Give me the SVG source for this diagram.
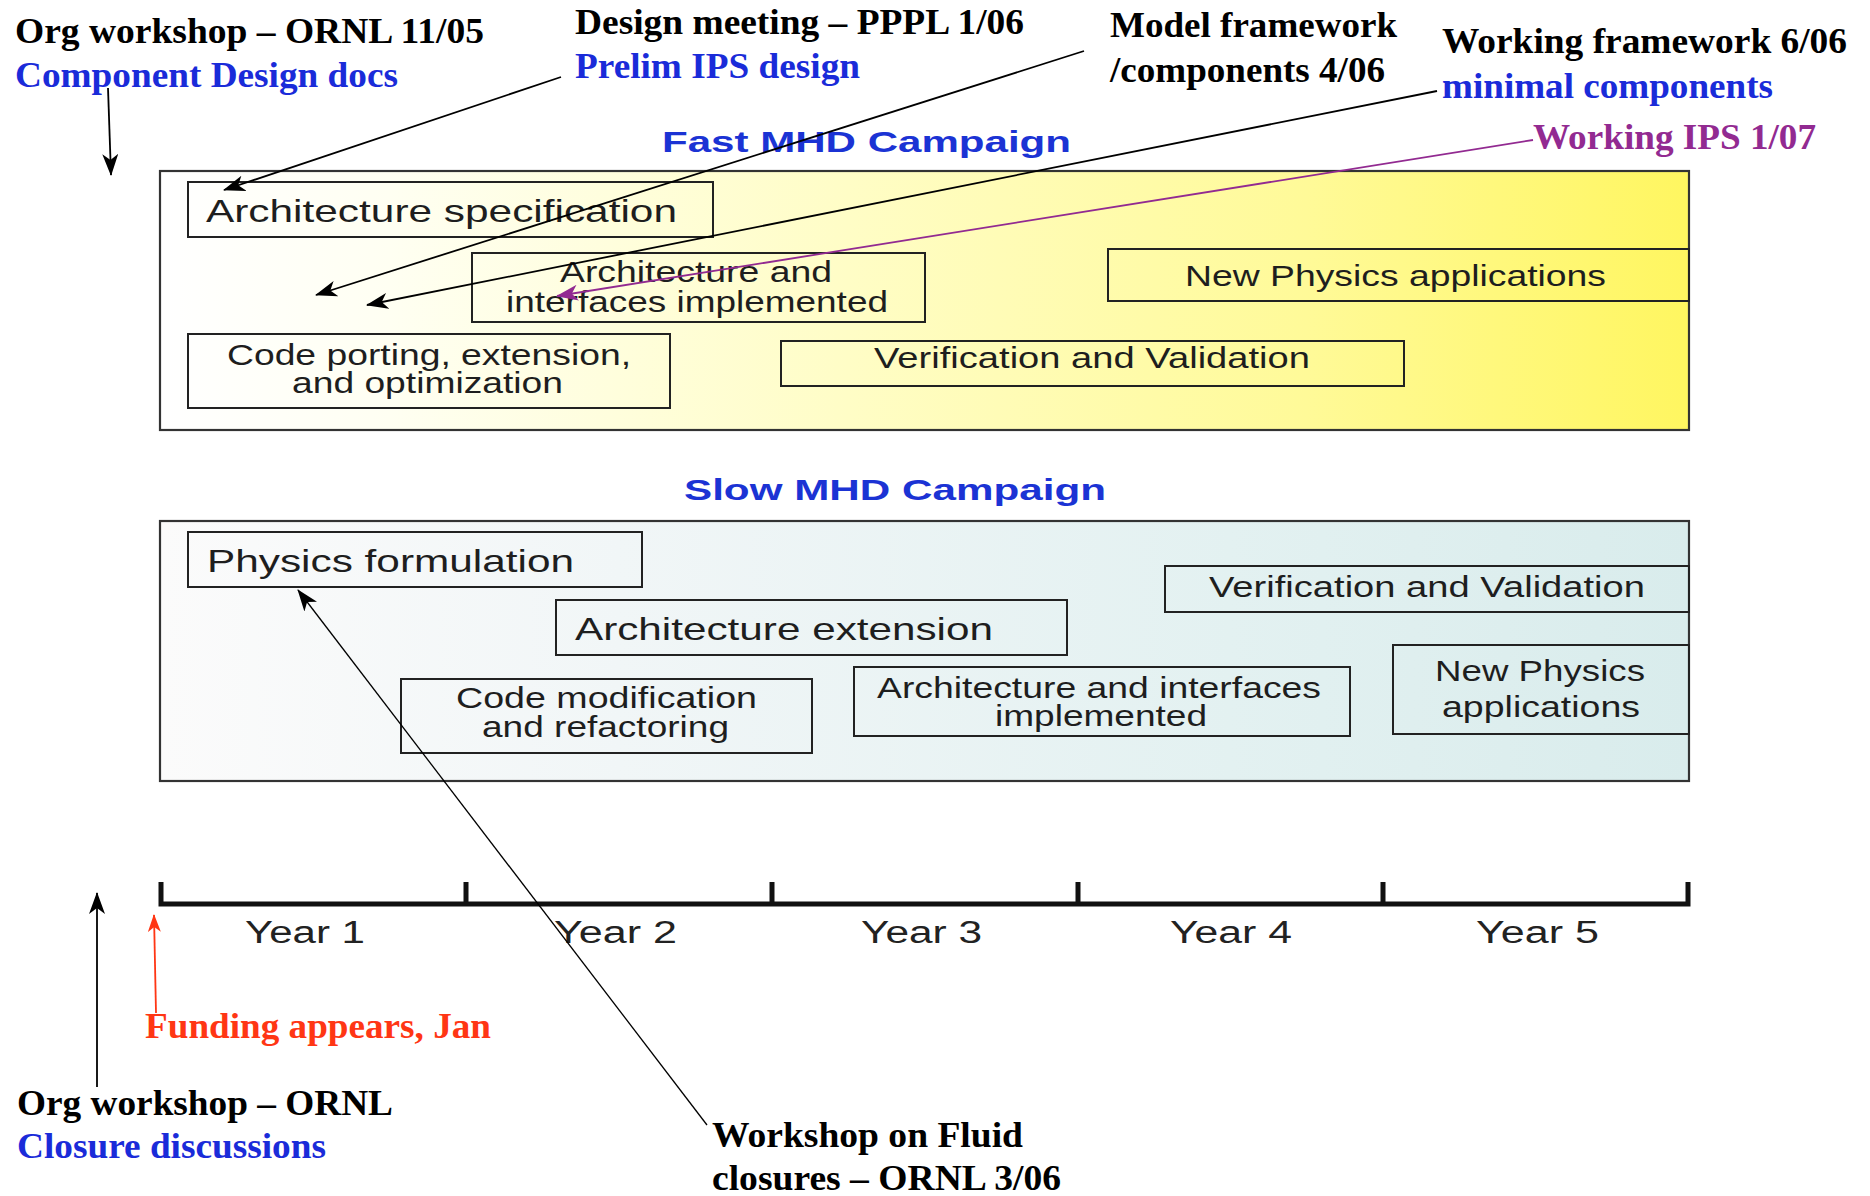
<svg xmlns="http://www.w3.org/2000/svg" width="1870" height="1196" viewBox="0 0 1870 1196">
<defs>
<style>
.ann{font-family:"Liberation Serif","Times New Roman",serif;font-weight:bold;font-size:35px}
.blk{fill:#000}.blu{fill:#1A2BD9}.pur{fill:#922A91}.red{fill:#FF3614}
.lbl{font-family:"Liberation Sans",Arial,sans-serif;font-size:29px;fill:#1E1E1E}
.big{font-size:32px}
.yr{font-family:"Liberation Sans",Arial,sans-serif;font-size:31px;fill:#222}
.ttl{font-family:"Liberation Sans",Arial,sans-serif;font-weight:bold;font-size:30px;fill:#1B33D4}
.box{fill:none;stroke:#222;stroke-width:2}
.outer{stroke:#333;stroke-width:2.2}
.conn{fill:none;stroke:#000;stroke-width:1.8}
.thin{stroke-width:1.3}
</style>
<linearGradient id="gFast" x1="0" y1="0" x2="1" y2="0">
<stop offset="0" stop-color="#FFFFFF"/>
<stop offset="0.15" stop-color="#FFFFF2"/>
<stop offset="0.45" stop-color="#FFFDC6"/>
<stop offset="0.75" stop-color="#FFFA98"/>
<stop offset="1" stop-color="#FFF660"/>
</linearGradient>
<linearGradient id="gSlow" x1="0" y1="0" x2="1" y2="0">
<stop offset="0" stop-color="#FBFBFB"/>
<stop offset="0.3" stop-color="#F1F6F7"/>
<stop offset="0.7" stop-color="#E3F1F1"/>
<stop offset="1" stop-color="#D9ECEC"/>
</linearGradient>
<marker id="aBlk" markerUnits="userSpaceOnUse" markerWidth="22" markerHeight="16" refX="21" refY="8" orient="auto" viewBox="0 0 22 16">
<path d="M0,0 L22,8 L0,16 L6,8 z" fill="#000"/>
</marker>
<marker id="aPur" markerUnits="userSpaceOnUse" markerWidth="22" markerHeight="16" refX="21" refY="8" orient="auto" viewBox="0 0 22 16">
<path d="M0,0 L22,8 L0,16 L6,8 z" fill="#922A91"/>
</marker>
<marker id="aRed" markerUnits="userSpaceOnUse" markerWidth="18" markerHeight="13" refX="17" refY="6.5" orient="auto" viewBox="0 0 18 13">
<path d="M0,0 L18,6.5 L0,13 L5,6.5 z" fill="#FF3614"/>
</marker>
</defs>
<rect width="1870" height="1196" fill="#FFFFFF"/>

<g id="fast-campaign">
<rect x="160" y="171" width="1529" height="259" fill="url(#gFast)" class="outer"/>
<text class="ttl" x="662" y="152" textLength="409" lengthAdjust="spacingAndGlyphs">Fast MHD Campaign</text>
</g>
<g id="fast-arch-spec">
<rect class="box" x="188" y="182" width="525" height="55"/>
<text class="lbl big" x="206" y="222" textLength="471" lengthAdjust="spacingAndGlyphs">Architecture specification</text>
</g>
<g id="fast-arch-impl">
<rect class="box" x="472" y="253" width="453" height="69"/>
<text class="lbl" x="560" y="282" textLength="272" lengthAdjust="spacingAndGlyphs">Architecture and</text>
<text class="lbl" x="506" y="312" textLength="382" lengthAdjust="spacingAndGlyphs">interfaces implemented</text>
</g>
<g id="fast-code-porting">
<rect class="box" x="188" y="334" width="482" height="74"/>
<text class="lbl" x="227" y="365" textLength="404" lengthAdjust="spacingAndGlyphs">Code porting, extension,</text>
<text class="lbl" x="292" y="393" textLength="271" lengthAdjust="spacingAndGlyphs">and optimization</text>
</g>
<g id="fast-vv">
<rect class="box" x="781" y="341" width="623" height="45"/>
<text class="lbl" x="874" y="368" textLength="436" lengthAdjust="spacingAndGlyphs">Verification and Validation</text>
</g>
<g id="fast-new-physics">
<rect class="box" x="1108" y="249" width="581" height="52"/>
<text class="lbl" x="1185" y="286" textLength="421" lengthAdjust="spacingAndGlyphs">New Physics applications</text>
</g>

<g id="slow-campaign">
<rect x="160" y="521" width="1529" height="260" fill="url(#gSlow)" class="outer"/>
<text class="ttl" x="684" y="500" textLength="422" lengthAdjust="spacingAndGlyphs">Slow MHD Campaign</text>
</g>
<g id="slow-physics-form">
<rect class="box" x="188" y="532" width="454" height="55"/>
<text class="lbl big" x="207" y="572" textLength="367" lengthAdjust="spacingAndGlyphs">Physics formulation</text>
</g>
<g id="slow-arch-ext">
<rect class="box" x="556" y="600" width="511" height="55"/>
<text class="lbl big" x="575" y="640" textLength="418" lengthAdjust="spacingAndGlyphs">Architecture extension</text>
</g>
<g id="slow-code-mod">
<rect class="box" x="401" y="679" width="411" height="74"/>
<text class="lbl" x="456" y="708" textLength="301" lengthAdjust="spacingAndGlyphs">Code modification</text>
<text class="lbl" x="482" y="737" textLength="247" lengthAdjust="spacingAndGlyphs">and refactoring</text>
</g>
<g id="slow-arch-impl">
<rect class="box" x="854" y="667" width="496" height="69"/>
<text class="lbl" x="877" y="698" textLength="444" lengthAdjust="spacingAndGlyphs">Architecture and interfaces</text>
<text class="lbl" x="995" y="726" textLength="212" lengthAdjust="spacingAndGlyphs">implemented</text>
</g>
<g id="slow-vv">
<rect class="box" x="1165" y="566" width="524" height="46"/>
<text class="lbl" x="1209" y="597" textLength="436" lengthAdjust="spacingAndGlyphs">Verification and Validation</text>
</g>
<g id="slow-new-physics">
<rect class="box" x="1393" y="645" width="296" height="89"/>
<text class="lbl" x="1435" y="681" textLength="210" lengthAdjust="spacingAndGlyphs">New Physics</text>
<text class="lbl" x="1442" y="717" textLength="198" lengthAdjust="spacingAndGlyphs">applications</text>
</g>

<g id="timeline">
<path d="M161,882 V904 H1688 V882 M466,882 V904 M772,882 V904 M1078,882 V904 M1383,882 V904" fill="none" stroke="#111" stroke-width="5"/>
<text class="yr" x="245" y="943" textLength="120" lengthAdjust="spacingAndGlyphs">Year 1</text>
<text class="yr" x="554" y="943" textLength="123" lengthAdjust="spacingAndGlyphs">Year 2</text>
<text class="yr" x="861" y="943" textLength="121" lengthAdjust="spacingAndGlyphs">Year 3</text>
<text class="yr" x="1170" y="943" textLength="122" lengthAdjust="spacingAndGlyphs">Year 4</text>
<text class="yr" x="1476" y="943" textLength="123" lengthAdjust="spacingAndGlyphs">Year 5</text>
</g>

<g id="annotations">
<g id="ann-org-1105">
<text class="ann blk" x="15" y="43" textLength="469" lengthAdjust="spacingAndGlyphs">Org workshop – ORNL 11/05</text>
<text class="ann blu" x="15" y="87" textLength="383" lengthAdjust="spacingAndGlyphs">Component Design docs</text>
</g>
<g id="ann-design-meeting">
<text class="ann blk" x="575" y="34" textLength="449" lengthAdjust="spacingAndGlyphs">Design meeting – PPPL 1/06</text>
<text class="ann blu" x="575" y="78" textLength="285" lengthAdjust="spacingAndGlyphs">Prelim IPS design</text>
</g>
<g id="ann-model-framework">
<text class="ann blk" x="1110" y="37" textLength="287" lengthAdjust="spacingAndGlyphs">Model framework</text>
<text class="ann blk" x="1110" y="82" textLength="275" lengthAdjust="spacingAndGlyphs">/components 4/06</text>
</g>
<g id="ann-working-framework">
<text class="ann blk" x="1442" y="53" textLength="405" lengthAdjust="spacingAndGlyphs">Working framework 6/06</text>
<text class="ann blu" x="1442" y="98" textLength="331" lengthAdjust="spacingAndGlyphs">minimal components</text>
</g>
<g id="ann-working-ips">
<text class="ann pur" x="1533" y="149" textLength="283" lengthAdjust="spacingAndGlyphs">Working IPS 1/07</text>
</g>
<g id="ann-funding">
<text class="ann red" x="145" y="1038" textLength="346" lengthAdjust="spacingAndGlyphs">Funding appears, Jan</text>
</g>
<g id="ann-org-ornl">
<text class="ann blk" x="17" y="1115" textLength="376" lengthAdjust="spacingAndGlyphs">Org workshop – ORNL</text>
<text class="ann blu" x="17" y="1158" textLength="309" lengthAdjust="spacingAndGlyphs">Closure discussions</text>
</g>
<g id="ann-fluid-closures">
<text class="ann blk" x="712" y="1147" textLength="311" lengthAdjust="spacingAndGlyphs">Workshop on Fluid</text>
<text class="ann blk" x="712" y="1190" textLength="349" lengthAdjust="spacingAndGlyphs">closures – ORNL 3/06</text>
</g>
</g>

<g id="connectors">
<line class="conn" x1="108" y1="88" x2="111" y2="175" marker-end="url(#aBlk)"/>
<line class="conn" x1="561" y1="77" x2="224" y2="190" marker-end="url(#aBlk)"/>
<line class="conn" x1="1084" y1="51" x2="316" y2="295" marker-end="url(#aBlk)"/>
<line class="conn" x1="1437" y1="91" x2="367" y2="305" marker-end="url(#aBlk)"/>
<line class="conn" x1="1533" y1="140" x2="557" y2="296" stroke="#922A91" style="stroke:#922A91" marker-end="url(#aPur)"/>
<line class="conn thin" x1="707" y1="1125" x2="298" y2="590" marker-end="url(#aBlk)"/>
<line class="conn" x1="97" y1="1087" x2="97" y2="893" marker-end="url(#aBlk)"/>
<line class="conn" x1="156" y1="1013" x2="154" y2="915" style="stroke:#FF3614" marker-end="url(#aRed)"/>
</g>
</svg>
